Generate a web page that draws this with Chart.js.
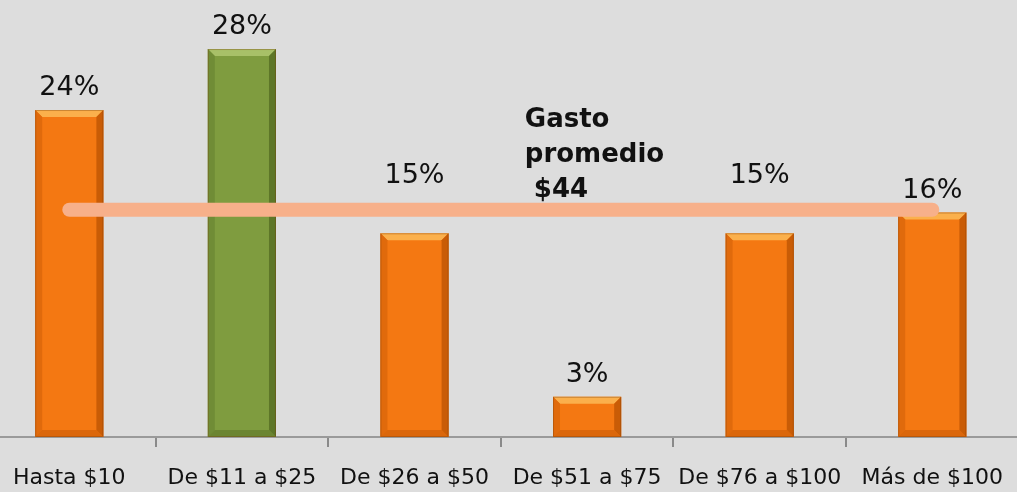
<!DOCTYPE html>
<html><head><meta charset="utf-8">
<script src="https://cdn.jsdelivr.net/npm/chart.js@4/dist/chart.umd.min.js"></script>
<style>
html,body{margin:0;padding:0;background:#dddddd;overflow:hidden;width:1017px;height:492px;}
#wrap{position:absolute;left:-17px;top:0;width:1038px;height:492px;}
canvas{display:block;}
</style></head><body>
<div id="wrap"><canvas id="c" width="1038" height="492"></canvas></div>
<script>
const categories = ["Hasta $10","De $11 a $25","De $26 a $50","De $51 a $75","De $76 a $100","Más de $100"];
const shares = [23.6, 28.0, 14.7, 2.9, 14.7, 16.2];
const shareLabels = ["24%","28%","15%","3%","15%","16%"];
const averageLevel = [16.4, 16.4, 16.4, 16.4, 16.4, 16.4];
const highlightIndex = 1;
const averageText = ["Gasto", "promedio", " $44"];

const FONT = "'DejaVu Sans', Verdana, sans-serif";
const ORANGE = {main:"#f47812", light:"#fbb04c", dark:"#c95c06", side:"#e06a0c"};
const GREEN  = {main:"#7f9c3f", light:"#a8c068", dark:"#5d7628", side:"#708c36"};

const bevelPlugin = {
  id:'bevel',
  afterDatasetDraw(chart, args){
    if (args.index !== 0) return;
    const ctx = chart.ctx;
    const meta = chart.getDatasetMeta(0);
    meta.data.forEach((bar, i) => {
      const c = i === highlightIndex ? GREEN : ORANGE;
      const {x, y, base, width} = bar.getProps(['x','y','base','width'], true);
      const l = x - width/2, r = x + width/2, t = y, b = base;
      const bv = Math.min(7, (b - t)/3);
      ctx.save();
      ctx.fillStyle = c.light;
      ctx.beginPath();
      ctx.moveTo(l, t); ctx.lineTo(r, t); ctx.lineTo(r - bv, t + bv); ctx.lineTo(l + bv, t + bv); ctx.closePath(); ctx.fill();
      ctx.fillStyle = c.dark;
      ctx.beginPath();
      ctx.moveTo(r, t); ctx.lineTo(r, b); ctx.lineTo(r - bv, b - bv); ctx.lineTo(r - bv, t + bv); ctx.closePath(); ctx.fill();
      ctx.fillStyle = c.side;
      ctx.beginPath();
      ctx.moveTo(l, t); ctx.lineTo(l, b); ctx.lineTo(l + bv, b - bv); ctx.lineTo(l + bv, t + bv); ctx.closePath(); ctx.fill();
      ctx.fillStyle = c.dark;
      ctx.globalAlpha = 0.6;
      ctx.beginPath();
      ctx.moveTo(l, b); ctx.lineTo(r, b); ctx.lineTo(r - bv, b - bv); ctx.lineTo(l + bv, b - bv); ctx.closePath(); ctx.fill();
      ctx.globalAlpha = 1;
      ctx.strokeStyle = 'rgba(120,60,10,0.35)';
      ctx.lineWidth = 1;
      ctx.strokeRect(l + 0.5, t + 0.5, width - 1, b - t - 1);
      ctx.restore();
    });
  }
};

const labelPlugin = {
  id:'labels',
  afterDraw(chart){
    const ctx = chart.ctx;
    const meta = chart.getDatasetMeta(0);
    const xs = chart.scales.x, ys = chart.scales.y;
    const ay = ys.getPixelForValue(averageLevel[0]);
    ctx.save();
    ctx.fillStyle = '#111';
    ctx.font = "27px " + FONT;
    ctx.textAlign = 'center';
    ctx.textBaseline = 'alphabetic';
    meta.data.forEach((bar, i) => {
      let base = bar.y - 15;
      if (base > ay - 8 && base - 20 < ay + 8) base = ay - 27;
      ctx.fillText(shareLabels[i], bar.x, base);
    });
    const ax = (xs.getPixelForValue(3) + xs.getPixelForValue(2)) / 2 + 24;
    ctx.font = "bold 26px " + FONT;
    ctx.textAlign = 'left';
    averageText.forEach((s, k) => {
      ctx.fillText(s, ax, ay - 83 + k * 35);
    });
    ctx.restore();
  }
};

new Chart(document.getElementById('c'), {
  data: {
    labels: categories,
    datasets: [
      {
        type:'bar',
        data: shares,
        backgroundColor: shares.map((v,i) => i === highlightIndex ? GREEN.main : ORANGE.main),
        borderWidth: 0,
        barPercentage: 0.395,
        categoryPercentage: 1,
        order: 2
      },
      {
        type:'line',
        data: averageLevel,
        borderColor: '#f7b08a',
        borderWidth: 14,
        borderCapStyle: 'round',
        pointRadius: 0,
        fill: false,
        order: 1
      }
    ]
  },
  options: {
    responsive: false,
    animation: false,
    layout: {padding: 0},
    plugins: {legend:{display:false}, tooltip:{enabled:false}},
    scales: {
      x: {
        offset: true,
        grid: {offset:true, drawOnChartArea:false, drawTicks:true, tickLength:10, color:'#8a8a8a', lineWidth:2},
        border: {display:true, color:'#9a9a9a', width:2},
        ticks: {color:'#111', font:{family:FONT, size:22}, padding:18, maxRotation:0, autoSkip:false},
        afterFit(scale){ scale.height = 55; }
      },
      y: {display:false, min:0, max:31.54}
    }
  },
  plugins: [bevelPlugin, labelPlugin]
});
</script>
</body></html>
